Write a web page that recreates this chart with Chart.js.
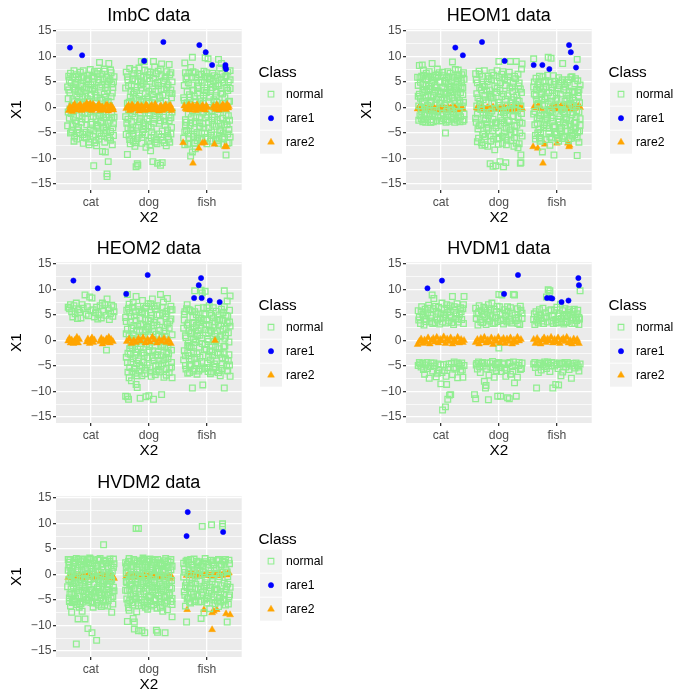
<!DOCTYPE html>
<html><head><meta charset="utf-8">
<script src="https://cdn.jsdelivr.net/npm/chart.js@4.4.1/dist/chart.umd.min.js"></script>
<style>
html,body{margin:0;padding:0;background:#fff;width:700px;height:700px;overflow:hidden}
.p{position:absolute;width:350px;height:233px}
canvas{display:block}
</style></head><body>
<div class="p" style="left:0;top:0"><canvas id="c0" width="350" height="233"></canvas></div>
<div class="p" style="left:350px;top:0"><canvas id="c1" width="350" height="233"></canvas></div>
<div class="p" style="left:0;top:233px"><canvas id="c2" width="350" height="233"></canvas></div>
<div class="p" style="left:350px;top:233px"><canvas id="c3" width="350" height="233"></canvas></div>
<div class="p" style="left:0;top:467px"><canvas id="c4" width="350" height="233"></canvas></div>
<script>
// ---- categories / ticks ----
const categories = ['cat','dog','fish'];
const categoryPositions = [1,2,3];
const yMajorTicks = [-15,-10,-5,0,5,10,15];
const yMinorTicks = [-12.5,-7.5,-2.5,2.5,7.5,12.5];
const classNames = ['normal','rare1','rare2'];
const panelTitles = ['ImbC data','HEOM1 data','HEOM2 data','HVDM1 data','HVDM2 data'];

// ---- ImbC ----
const imbcNormal = [[0.62,6.1],[0.66,4.8],[0.71,7.2],[0.64,2.9],[0.69,1.5],[0.73,3.6],[0.78,5.5],[0.82,6.9],[0.86,4.1],[0.9,2.2],[0.95,6.3],[0.99,7.4],[1.03,5.0],[1.07,3.1],[1.11,6.6],[1.15,8.8],[1.19,4.4],[1.23,2.6],[1.27,5.9],[1.31,8.6],[1.35,6.8],[1.38,3.9],[1.3,1.2],[1.24,7.1],[1.16,1.8],[1.08,0.9],[0.97,1.1],[0.88,0.6],[0.76,2.3],[0.67,0.3],[0.61,-0.9],
[0.63,-2.1],[0.68,-3.4],[0.65,-5.0],[0.72,-5.8],[0.77,-4.4],[0.8,-1.6],[0.84,-2.9],[0.87,-7.0],[0.92,-4.9],[0.96,-6.8],[0.94,-1.2],[1.0,-3.3],[1.04,-5.6],[1.05,-11.4],[1.09,-2.2],[1.12,-4.1],[1.14,-6.2],[1.1,-7.5],[1.18,-3.0],[1.21,-1.4],[1.22,-5.1],[1.2,-8.6],[1.25,-8.7],[1.26,-3.8],[1.28,-13.0],[1.28,-13.5],[1.3,-10.6],[1.29,-6.0],[1.33,-2.5],[1.34,-4.7],[1.36,-1.1],[1.37,-7.3],[1.39,-5.5],[1.39,-3.2],[0.7,-0.5],[0.98,-0.4],[1.17,-0.6],[1.32,0.4],
[0.74,4.5],[0.83,3.0],[0.93,5.4],[1.01,2.6],[1.13,4.9],[1.29,3.3],[1.36,4.6],[0.6,4.0],[0.8,1.0],[1.06,7.0],
[0.63,5.3],[0.66,-1.2],[0.7,4.0],[0.73,-2.6],[0.75,6.4],[0.79,-3.9],[0.81,2.7],[0.84,5.8],[0.86,-5.3],[0.89,3.6],[0.91,-2.3],[0.94,1.7],[0.96,4.6],[0.99,-4.4],[1.02,6.1],[1.04,-1.8],[1.06,3.8],[1.09,-6.4],[1.11,1.9],[1.14,5.4],[1.17,-2.7],[1.19,6.5],[1.22,-4.0],[1.25,3.9],[1.27,-1.9],[1.3,5.1],[1.32,-5.9],[1.35,2.1],[1.38,-4.0],[1.4,6.0],[0.68,-4.4],[0.77,0.8],[0.92,-6.0],[1.0,4.4],[1.15,-5.0],[1.26,0.9],[0.61,1.7],[0.85,-0.9],[1.12,-3.5],[1.34,7.3],
[0.6,-3.6],[0.62,3.4],[0.64,-0.3],[0.65,6.7],[0.67,-4.8],[0.69,5.9],[0.7,-1.9],[0.72,1.1],[0.73,4.9],[0.75,-3.1],[0.76,-6.2],[0.78,3.1],[0.79,6.0],[0.8,-4.9],[0.82,-0.2],[0.83,4.4],[0.85,-2.2],[0.86,2.0],[0.88,6.1],[0.89,-5.8],[0.9,-1.0],[0.92,3.9],[0.93,-3.4],[0.95,0.5],[0.96,5.6],[0.98,-5.2],[0.99,2.3],[1.0,-0.9],[1.02,-2.9],[1.03,3.5],[1.05,-4.6],[1.06,5.7],[1.08,-0.7],[1.09,2.4],[1.1,-3.7],[1.12,7.1],[1.13,0.2],[1.15,-1.6],[1.16,4.0],[1.18,-5.6],[1.19,1.4],[1.21,5.6],[1.22,-2.0],[1.24,-6.8],[1.25,2.0],[1.27,-4.5],[1.28,4.5],[1.3,-3.1],[1.31,0.0],[1.33,5.4],[1.34,-6.4],[1.36,-2.0],[1.37,2.8],[1.39,5.0],[1.4,-1.9],[0.71,-6.6],[0.87,7.2],[1.07,-6.9],[1.23,7.5],[0.97,-7.3],
[1.61,6.9],[1.65,4.2],[1.68,2.0],[1.63,0.8],[1.72,5.6],[1.75,7.3],[1.79,3.3],[1.83,1.4],[1.87,9.0],[1.86,6.1],[1.9,4.6],[1.92,9.0],[1.94,2.7],[1.98,7.0],[2.02,5.1],[2.06,3.6],[2.08,9.0],[2.1,1.6],[2.13,6.6],[2.17,4.3],[2.2,7.5],[2.22,8.5],[2.24,2.4],[2.28,5.7],[2.31,3.9],[2.35,8.4],[2.36,6.4],[2.39,1.9],[2.38,3.4],[1.7,1.2],[1.81,5.0],[2.0,0.9],[2.15,0.7],[2.33,0.5],[1.96,4.0],
[1.6,-1.8],[1.63,-9.2],[1.64,-4.0],[1.67,-6.3],[1.7,-2.7],[1.73,-5.1],[1.76,-7.6],[1.78,-11.6],[1.8,-11.0],[1.81,-11.3],[1.82,-3.5],[1.85,-1.3],[1.88,-5.9],[1.91,-4.3],[1.95,-7.8],[1.97,-2.2],[2.0,-6.6],[2.03,-8.5],[2.04,-3.9],[2.07,-10.6],[2.09,-5.4],[2.11,-1.6],[2.15,-10.9],[2.14,-7.1],[2.18,-3.1],[2.2,-11.3],[2.23,-10.8],[2.21,-5.8],[2.25,-1.9],[2.27,-6.9],[2.3,-7.5],[2.32,-4.4],[2.35,-2.6],[2.38,-5.2],[2.4,-0.9],[1.69,-0.6],[1.93,-0.5],[2.26,-0.3],
[1.62,-3.1],[1.64,5.4],[1.66,-5.6],[1.69,3.1],[1.71,-4.5],[1.74,6.6],[1.76,-1.9],[1.78,1.8],[1.8,-6.1],[1.83,7.7],[1.84,-2.8],[1.87,3.8],[1.89,-4.9],[1.91,5.9],[1.94,-3.6],[1.96,1.2],[1.99,-1.1],[2.01,6.4],[2.04,-5.9],[2.06,2.5],[2.08,-3.1],[2.11,4.7],[2.13,-6.3],[2.16,7.1],[2.18,-1.2],[2.21,3.5],[2.23,-4.6],[2.26,5.2],[2.28,-3.5],[2.31,7.0],[2.33,-5.8],[2.36,2.8],[2.38,-2.0],[2.4,5.0],[1.68,-7.1],[1.86,4.4],[2.02,-7.3],[2.19,1.9],[2.34,-6.2],[1.73,2.6],
[1.6,3.8],[1.61,-5.3],[1.63,6.0],[1.64,-2.3],[1.66,1.0],[1.67,7.6],[1.69,-4.2],[1.7,4.4],[1.72,-1.2],[1.73,-6.6],[1.75,2.9],[1.76,5.2],[1.78,-3.9],[1.79,0.0],[1.81,6.7],[1.82,-5.4],[1.84,2.2],[1.85,-2.1],[1.87,5.2],[1.88,-7.0],[1.9,1.6],[1.91,-3.0],[1.93,7.3],[1.94,-5.3],[1.96,-0.1],[1.97,5.6],[1.99,-3.6],[2.0,3.2],[2.02,-1.6],[2.03,6.9],[2.05,-4.8],[2.06,0.9],[2.08,5.7],[2.09,-2.3],[2.11,-6.8],[2.12,3.1],[2.14,-0.8],[2.15,4.9],[2.17,-5.2],[2.18,2.2],[2.2,-2.6],[2.21,6.2],[2.23,-0.1],[2.24,-6.4],[2.26,3.6],[2.27,-2.7],[2.29,6.0],[2.3,1.2],[2.32,-5.0],[2.33,4.4],[2.35,-1.5],[2.36,-6.8],[2.38,6.8],[2.39,-3.9],[2.4,2.7],[1.65,-0.4],[1.98,1.9],[2.25,0.0],[1.77,-6.9],[2.1,7.9],
[2.62,8.7],[2.64,5.6],[2.66,3.1],[2.61,1.4],[2.69,6.8],[2.72,7.8],[2.75,9.8],[2.74,4.4],[2.78,2.2],[2.81,5.9],[2.84,3.7],[2.86,6.4],[2.89,1.8],[2.92,4.9],[2.95,7.1],[2.97,9.7],[2.99,2.9],[3.02,9.5],[3.04,5.5],[3.07,3.4],[3.1,6.7],[3.12,1.5],[3.15,4.2],[3.18,5.9],[3.2,9.4],[3.22,7.7],[3.25,8.6],[3.27,2.6],[3.3,4.8],[3.33,6.2],[3.36,3.3],[3.37,5.0],[3.4,7.2],[3.39,1.2],[2.7,0.6],[2.94,0.8],[3.14,0.5],
[2.6,-6.0],[2.62,-7.3],[2.63,-2.4],[2.65,-4.5],[2.68,-1.3],[2.71,-3.6],[2.72,-9.5],[2.75,-8.7],[2.77,-5.7],[2.8,-8.1],[2.8,-2.8],[2.83,-4.9],[2.87,-1.9],[2.9,-6.3],[2.93,-3.2],[2.96,-5.1],[3.0,-1.5],[3.03,-4.0],[3.06,-6.6],[3.09,-2.5],[3.12,-5.4],[3.16,-3.7],[3.19,-1.2],[3.21,-6.0],[3.24,-4.6],[3.27,-2.1],[3.3,-5.8],[3.33,-9.3],[3.35,-3.4],[3.38,-6.9],[3.4,-5.8],[3.37,-1.6],[2.85,-0.5],[3.08,-0.6],
[2.61,4.3],[2.63,-3.5],[2.66,6.0],[2.68,-5.2],[2.7,2.5],[2.73,-2.0],[2.76,7.0],[2.78,-4.2],[2.81,1.0],[2.83,-6.5],[2.86,4.9],[2.88,-3.7],[2.91,6.5],[2.93,-1.1],[2.96,3.3],[2.98,-5.9],[3.01,6.0],[3.03,-2.9],[3.05,2.0],[3.08,-4.8],[3.11,5.2],[3.13,-1.9],[3.16,3.0],[3.18,-6.5],[3.21,4.3],[3.23,-3.1],[3.26,6.6],[3.28,-5.0],[3.31,1.9],[3.34,-2.7],[3.36,6.9],[3.38,-4.3],[3.4,3.7],[2.69,-7.0],[2.84,2.8],[3.0,-7.1],[3.17,1.0],[3.29,-7.2],[2.64,0.5],[3.06,4.6],
[2.6,1.9],[2.62,-4.8],[2.63,6.8],[2.65,-2.9],[2.66,0.9],[2.68,4.8],[2.69,-6.1],[2.71,2.0],[2.72,-3.0],[2.74,5.9],[2.75,-0.6],[2.77,3.4],[2.78,-5.2],[2.8,6.8],[2.81,-2.0],[2.82,0.4],[2.84,-6.0],[2.85,4.2],[2.87,-3.0],[2.88,1.1],[2.9,5.3],[2.91,-5.0],[2.92,-0.1],[2.94,2.4],[2.95,-4.0],[2.97,6.0],[2.98,-2.0],[3.0,3.8],[3.01,-6.2],[3.03,1.1],[3.04,-0.8],[3.06,5.7],[3.07,-5.5],[3.09,3.9],[3.1,-3.3],[3.12,0.0],[3.13,6.2],[3.15,-6.2],[3.16,2.3],[3.18,-2.6],[3.19,4.6],[3.21,-0.4],[3.22,-4.4],[3.24,2.8],[3.25,5.4],[3.27,-6.2],[3.28,0.8],[3.3,-3.4],[3.31,6.0],[3.33,-1.4],[3.34,3.9],[3.36,-5.2],[3.37,1.1],[3.39,-2.5],[3.4,5.4],[2.67,-7.2],[2.99,6.8],[3.2,-7.0],[2.79,-7.0],[3.35,-7.0]];
const imbcRare1 = [[0.64,11.7],[0.85,10.2],[1.92,9.1],[2.25,12.8],[2.87,12.2],[2.98,10.8],[3.09,8.3],[3.32,8.3],[3.33,7.5],[3.32,7.9]];
const imbcRare2 = [[0.62,-0.6],[0.66,-0.2],[0.7,0.3],[0.74,-0.5],[0.78,0.1],[0.82,0.5],[0.86,-0.3],[0.9,0.2],[0.93,0.8],[0.97,0.4],[1.0,-0.4],[1.04,0.6],[1.08,-0.1],[1.12,0.3],[1.16,-0.6],[1.2,0.1],[1.24,-0.3],[1.28,0.5],[1.32,-0.2],[1.36,0.2],[1.39,-0.5],
[0.64,0.2],[0.68,-0.8],[0.72,0.6],[0.76,-0.2],[0.8,0.4],[0.84,-0.6],[0.88,0.3],[0.92,-0.4],[0.95,0.0],[0.99,0.7],[1.02,-0.6],[1.06,0.2],[1.1,-0.3],[1.14,0.6],[1.18,0.0],[1.22,-0.5],[1.26,0.4],[1.3,-0.7],[1.34,0.3],[1.38,-0.1],
[1.61,-0.2],[1.65,0.4],[1.69,-0.5],[1.73,0.2],[1.77,-0.1],[1.81,0.5],[1.85,-0.4],[1.89,0.1],[1.93,-0.6],[1.97,0.3],[2.01,-0.2],[2.05,0.4],[2.09,-0.5],[2.13,0.0],[2.17,-0.7],[2.21,0.3],[2.25,-0.4],[2.29,0.5],[2.33,-0.1],[2.37,0.4],[2.4,-0.3],
[1.63,0.1],[1.67,-0.6],[1.71,0.5],[1.75,-0.3],[1.79,0.2],[1.83,-0.7],[1.87,0.3],[1.91,-0.2],[1.95,0.5],[1.99,-0.5],[2.03,0.2],[2.07,-0.1],[2.11,0.6],[2.15,-0.4],[2.19,0.1],[2.23,-0.6],[2.27,0.2],[2.31,-0.3],[2.35,0.3],[2.39,-0.6],
[2.61,0.3],[2.65,-0.4],[2.69,0.5],[2.73,-0.1],[2.77,0.2],[2.81,-0.6],[2.85,0.1],[2.89,-0.3],[2.93,0.4],[2.97,-0.5],[3.01,0.0],[3.11,0.2],[3.15,-0.4],[3.19,0.3],[3.23,-0.2],[3.27,0.5],[3.31,-0.1],[3.35,0.6],[3.38,0.2],
[2.63,-0.2],[2.67,0.2],[2.71,-0.5],[2.75,0.4],[2.79,-0.2],[2.83,0.5],[2.87,-0.4],[2.91,0.2],[2.95,-0.1],[2.99,0.3],[3.13,-0.1],[3.17,0.5],[3.21,-0.5],[3.25,0.1],[3.29,0.4],[3.33,-0.4],[3.37,-0.1],
[2.59,-6.9],[2.76,-10.9],[2.86,-8.0],[2.92,-7.0],[2.96,-6.9],[3.13,-7.2],[3.31,-7.7],[3.34,-7.7]];

// ---- HEOM1 ----
const heom1Normal = [[0.61,4.3],[0.63,8.2],[0.65,1.8],[0.67,6.1],[0.68,8.3],[0.7,-2.4],[0.72,3.5],[0.74,5.4],[0.76,-1.1],[0.78,2.4],[0.8,7.0],[0.82,0.9],[0.84,4.7],[0.85,8.6],[0.87,-2.8],[0.89,3.0],[0.91,6.3],[0.93,1.6],[0.95,-1.9],[0.97,5.0],[0.99,2.7],[1.01,-2.6],[1.03,6.9],[1.05,3.9],[1.07,0.7],[1.08,-5.0],[1.1,5.8],[1.12,-1.5],[1.14,2.2],[1.16,6.7],[1.18,4.2],[1.2,8.9],[1.22,-2.3],[1.24,1.3],[1.25,7.4],[1.27,3.4],[1.29,5.6],[1.3,7.3],[1.32,-0.9],[1.34,2.9],[1.36,4.8],[1.38,-2.7],[1.4,5.5],[1.39,1.0],[0.64,-1.6],[0.73,-0.4],[0.86,-1.3],[0.98,0.8],[1.09,-2.9],[1.19,-0.5],[1.33,0.9],[0.69,2.9],[0.79,4.1],[0.92,5.9],[1.06,1.9],[1.15,3.5],[1.28,6.4],[1.35,3.7],[0.62,0.3],[0.75,6.7],
[0.61,2.2],[0.64,5.8],[0.66,-2.2],[0.69,4.5],[0.71,1.2],[0.74,-2.9],[0.76,3.3],[0.79,6.1],[0.81,-1.8],[0.83,2.1],[0.86,5.3],[0.88,-0.6],[0.9,4.4],[0.93,-2.6],[0.95,3.2],[0.97,6.8],[1.0,1.4],[1.02,4.0],[1.04,-1.2],[1.07,5.3],[1.09,2.6],[1.11,-2.4],[1.13,4.6],[1.16,0.6],[1.18,-1.9],[1.21,3.0],[1.23,5.9],[1.26,-2.1],[1.28,1.9],[1.31,4.2],[1.33,-2.8],[1.36,6.4],[1.38,2.5],[1.4,-1.3],[0.67,-0.8],[0.84,-2.4],[1.0,-1.6],[1.17,2.9],[1.3,-1.6],[0.77,0.4],
[0.6,5.9],[0.62,-2.5],[0.63,2.6],[0.65,4.9],[0.66,-0.2],[0.68,1.1],[0.69,-2.8],[0.71,6.3],[0.72,-1.4],[0.74,2.0],[0.75,4.3],[0.77,-2.4],[0.78,5.6],[0.8,-0.6],[0.81,3.7],[0.83,-2.9],[0.84,1.2],[0.86,6.0],[0.87,2.4],[0.89,-1.6],[0.9,0.5],[0.92,3.9],[0.93,-0.9],[0.95,6.3],[0.96,2.0],[0.98,-2.6],[0.99,4.9],[1.01,3.0],[1.02,0.0],[1.04,6.2],[1.05,-2.2],[1.07,2.9],[1.08,4.7],[1.1,-0.8],[1.11,1.5],[1.13,6.0],[1.14,-2.7],[1.16,3.9],[1.17,-0.9],[1.19,5.2],[1.2,1.9],[1.22,-1.2],[1.23,3.8],[1.25,0.3],[1.26,5.0],[1.28,-2.5],[1.29,2.6],[1.31,6.2],[1.32,1.3],[1.34,-1.8],[1.35,5.3],[1.37,0.3],[1.38,3.9],[1.4,-2.4],[1.39,6.8],[0.7,7.3],[0.94,7.5],[1.12,7.0],[0.82,-2.9],[1.24,-2.9],
[1.6,6.6],[1.62,2.7],[1.64,-4.2],[1.66,7.1],[1.68,0.6],[1.7,-6.9],[1.72,4.5],[1.74,-2.1],[1.75,7.2],[1.77,-5.7],[1.79,3.2],[1.81,-7.6],[1.83,5.6],[1.85,-11.0],[1.85,-1.0],[1.87,1.9],[1.89,-4.6],[1.9,-11.5],[1.91,6.3],[1.93,-8.3],[1.94,-3.1],[1.95,-11.4],[1.96,2.9],[1.98,-6.2],[2.0,9.0],[2.01,0.4],[2.02,-10.6],[2.03,4.8],[2.05,-2.6],[2.07,7.0],[2.08,-11.6],[2.09,-5.0],[2.11,1.6],[2.12,-10.8],[2.13,-7.3],[2.15,5.3],[2.17,-3.7],[2.19,3.8],[2.2,9.0],[2.21,-6.5],[2.23,0.9],[2.25,-1.7],[2.27,6.1],[2.28,-4.9],[2.3,9.0],[2.31,2.4],[2.33,-7.9],[2.34,4.2],[2.36,-2.9],[2.37,-10.9],[2.38,-10.8],[2.38,-9.3],[2.39,7.5],[2.4,8.5],[2.4,-5.6],[1.63,-1.3],[1.73,1.5],[1.88,-0.7],[2.04,-0.9],[2.18,-0.4],[2.32,-0.6],[1.67,3.9],[1.8,-3.3],[1.97,5.1],[2.1,-1.4],[2.24,3.1],[2.35,1.2],[1.71,-7.4],[2.06,-7.0],[2.26,-7.6],
[1.61,-2.9],[1.63,4.8],[1.65,-6.0],[1.67,1.2],[1.69,-3.4],[1.72,6.1],[1.74,-5.2],[1.76,2.4],[1.78,-1.5],[1.8,5.0],[1.82,-4.1],[1.84,3.4],[1.86,-6.6],[1.88,6.8],[1.9,-2.3],[1.92,0.8],[1.95,-4.0],[1.97,3.7],[1.99,-7.2],[2.01,5.8],[2.03,-3.3],[2.05,2.1],[2.08,-1.0],[2.1,5.6],[2.12,-5.8],[2.14,0.3],[2.16,-2.5],[2.18,6.9],[2.2,-4.4],[2.22,1.5],[2.25,4.7],[2.27,-5.9],[2.29,0.6],[2.31,-3.5],[2.33,6.5],[2.35,-7.1],[2.37,3.6],[2.39,-1.2],[1.7,-0.3],[2.0,-6.0],
[1.6,-2.1],[1.61,5.4],[1.63,-6.7],[1.64,1.9],[1.66,-3.6],[1.67,6.5],[1.69,-0.4],[1.7,3.4],[1.72,-5.3],[1.73,-1.0],[1.75,4.1],[1.76,-7.3],[1.78,0.9],[1.79,-3.9],[1.81,6.1],[1.82,-1.6],[1.84,2.6],[1.85,-5.6],[1.87,5.4],[1.88,-3.0],[1.9,1.9],[1.91,-6.2],[1.93,4.2],[1.94,-0.2],[1.96,-2.9],[1.97,7.2],[1.99,1.0],[2.0,-4.7],[2.02,3.3],[2.03,-1.9],[2.05,6.5],[2.06,-5.6],[2.08,2.6],[2.09,-3.0],[2.11,4.3],[2.12,-0.6],[2.14,-6.4],[2.15,2.3],[2.17,6.0],[2.18,-2.8],[2.2,0.4],[2.21,-5.2],[2.23,4.0],[2.24,-1.8],[2.26,2.0],[2.27,-3.6],[2.29,5.6],[2.3,-7.0],[2.32,1.4],[2.33,-2.0],[2.35,4.8],[2.36,-5.0],[2.38,0.3],[2.39,2.9],[2.4,-3.1],[1.62,0.3],[1.86,2.2],[2.13,-4.1],[1.77,-2.4],[2.28,-0.4],
[2.6,9.5],[2.61,2.6],[2.63,-5.5],[2.64,5.7],[2.66,-2.1],[2.68,0.8],[2.69,-4.3],[2.71,3.9],[2.73,-6.2],[2.75,-8.7],[2.76,5.0],[2.78,-1.4],[2.8,2.1],[2.82,-3.6],[2.84,6.3],[2.85,9.8],[2.86,-5.1],[2.88,-7.4],[2.9,9.6],[2.91,1.2],[2.93,-2.7],[2.95,-9.3],[2.95,4.5],[2.97,-4.8],[2.99,2.8],[3.01,-6.0],[3.03,5.8],[3.05,-1.8],[3.07,0.5],[3.08,-3.9],[3.1,8.6],[3.12,3.4],[3.14,-5.6],[3.16,-2.3],[3.18,4.9],[3.2,-6.5],[3.22,1.7],[3.24,-4.4],[3.26,6.0],[3.28,-1.0],[3.3,3.1],[3.31,-5.3],[3.33,-2.9],[3.35,9.4],[3.35,-9.4],[3.36,5.2],[3.38,-6.8],[3.39,0.9],[3.4,-3.5],[2.62,-0.8],[2.74,1.6],[2.87,-0.6],[3.0,-0.3],[3.13,-0.9],[3.27,0.4],[2.67,4.4],[2.79,-3.0],[2.92,3.3],[3.06,-4.6],[3.19,2.4],[3.32,-4.0],[3.37,2.2],[2.7,-5.9],[3.23,-6.1],
[2.6,4.0],[2.62,-3.4],[2.65,1.5],[2.67,-5.0],[2.7,6.1],[2.72,-1.6],[2.74,3.0],[2.77,-4.0],[2.79,0.3],[2.81,5.2],[2.83,-2.2],[2.86,2.9],[2.88,-5.8],[2.9,3.9],[2.92,-1.0],[2.94,6.2],[2.96,-3.6],[2.98,1.3],[3.0,-5.3],[3.02,3.6],[3.04,-2.8],[3.07,5.0],[3.09,-6.1],[3.11,-0.8],[3.13,4.6],[3.15,-3.5],[3.17,1.7],[3.2,5.4],[3.22,-2.6],[3.25,-5.0],[3.27,2.9],[3.29,-3.8],[3.31,4.6],[3.34,-0.6],[3.36,-4.8],[3.38,3.5],[3.4,-2.2],[2.71,-6.6],[3.03,-6.6],[3.24,0.8],
[2.6,-1.3],[2.61,5.0],[2.63,-6.2],[2.64,2.3],[2.66,-3.1],[2.67,0.6],[2.69,5.0],[2.7,-2.2],[2.72,-4.9],[2.73,2.5],[2.75,-0.5],[2.76,6.0],[2.78,-3.4],[2.79,1.7],[2.81,-6.3],[2.82,4.0],[2.84,-1.5],[2.85,0.7],[2.87,-4.1],[2.88,4.9],[2.9,-2.0],[2.91,-6.0],[2.93,2.2],[2.94,-3.9],[2.96,5.1],[2.97,0.5],[2.99,-5.2],[3.0,1.8],[3.02,-2.3],[3.03,4.3],[3.05,-4.2],[3.06,2.6],[3.08,-0.4],[3.09,5.4],[3.11,-3.0],[3.12,-5.8],[3.14,1.2],[3.15,4.0],[3.17,-2.0],[3.18,-4.7],[3.2,0.4],[3.21,3.2],[3.23,-3.4],[3.24,5.9],[3.26,-1.4],[3.27,-5.6],[3.29,1.4],[3.3,-3.1],[3.32,5.6],[3.33,-1.9],[3.35,-6.0],[3.36,2.9],[3.38,-0.9],[3.39,-4.6],[3.4,4.4],[2.65,3.5],[2.89,-0.9],[3.13,-1.3],[3.34,0.9],[2.77,3.6]];
const heom1Rare1 = [[1.25,11.7],[1.38,10.2],[1.71,12.8],[2.1,9.1],[2.6,8.3],[2.75,8.3],[2.87,7.5],[3.21,12.2],[3.24,10.8],[3.33,7.8]];
const heom1Rare2 = [[0.6,-0.3],[0.63,0.1],[0.66,-0.5],[0.69,-0.2],[0.72,0.0],[0.75,-0.4],[0.78,-0.1],[0.81,-0.6],[0.84,-0.3],[0.87,0.1],[0.9,-0.4],[0.93,-0.2],[0.96,-0.5],[0.99,-0.1],[1.02,-0.3],[1.05,0.0],[1.08,-0.4],[1.11,-0.2],[1.14,-0.5],[1.17,-0.1],[1.2,-0.3],[1.23,0.1],[1.26,-0.4],[1.29,-0.2],[1.32,-0.5],[1.35,-0.1],[1.38,-0.3],
[0.62,-0.1],[0.65,-0.3],[0.68,0.0],[0.71,-0.4],[0.74,-0.2],[0.77,-0.5],[0.8,-0.2],[0.83,0.0],[0.86,-0.4],[0.89,-0.1],[0.92,-0.5],[0.95,-0.2],[0.98,-0.3],[1.01,0.0],[1.04,-0.5],[1.07,-0.2],[1.1,-0.3],[1.13,0.0],[1.16,-0.4],[1.19,-0.2],[1.22,-0.5],[1.25,-0.1],[1.28,-0.3],[1.31,0.0],[1.34,-0.4],[1.37,-0.2],
[1.62,-0.1],[1.66,-0.3],[1.7,0.0],[1.74,-0.2],[1.78,-0.4],[1.82,-0.1],[1.86,-0.3],[1.9,0.1],[1.94,-0.2],[1.98,-0.4],[2.02,-0.1],[2.06,-0.3],[2.1,0.0],[2.14,-0.2],[2.18,-0.5],[2.22,-0.1],[2.26,-0.3],[2.3,0.1],[2.34,-0.2],[2.38,-0.4],
[1.64,-0.2],[1.68,-0.4],[1.72,-0.1],[1.76,-0.3],[1.8,0.0],[1.84,-0.4],[1.88,-0.2],[1.92,-0.3],[1.96,0.0],[2.0,-0.2],[2.04,-0.4],[2.08,-0.1],[2.12,-0.3],[2.16,0.0],[2.2,-0.2],[2.24,-0.4],[2.28,-0.1],[2.32,-0.3],[2.36,0.0],[2.4,-0.2],
[2.61,0.2],[2.65,-0.1],[2.69,0.3],[2.73,-0.2],[2.9,0.1],[2.95,-0.3],[3.0,0.2],[3.04,-0.1],[3.08,0.3],[3.12,-0.2],[3.16,0.1],[3.22,-0.3],[3.28,0.2],[3.33,-0.1],[3.38,0.3],
[2.63,0.0],[2.67,0.2],[2.71,-0.1],[2.92,-0.2],[2.97,0.3],[3.02,-0.2],[3.06,0.1],[3.1,-0.1],[3.14,0.3],[3.19,-0.1],[3.25,0.0],[3.3,-0.2],[3.36,0.1],[3.4,0.0],
[2.59,-7.7],[2.67,-8.0],[2.79,-7.2],[2.76,-10.9],[3.0,-7.0],[3.19,-7.0],[3.21,-7.7],[3.22,-7.4]];

// ---- HEOM2 ----
const heom2Normal = [[0.61,6.5],[0.63,6.2],[0.65,7.0],[0.67,5.6],[0.69,4.6],[0.71,6.8],[0.73,5.2],[0.75,7.3],[0.77,4.3],[0.79,6.0],[0.81,5.5],[0.83,4.4],[0.85,7.0],[0.87,6.3],[0.9,8.9],[0.92,5.1],[0.94,6.6],[0.96,4.8],[0.98,8.5],[1.0,5.8],[1.02,8.3],[1.04,6.0],[1.06,4.6],[1.08,5.4],[1.1,6.5],[1.12,4.2],[1.14,5.0],[1.16,6.8],[1.18,4.4],[1.2,7.3],[1.22,5.7],[1.24,7.0],[1.26,4.9],[1.27,-1.9],[1.28,8.1],[1.3,6.2],[1.32,4.1],[1.34,5.3],[1.36,6.9],[1.38,4.7],[1.4,5.6],[1.39,6.6],
[1.6,-10.9],[1.61,1.3],[1.62,5.9],[1.63,-11.0],[1.63,9.0],[1.64,-2.5],[1.65,-11.5],[1.66,7.1],[1.67,-5.3],[1.68,3.6],[1.7,-7.9],[1.71,0.4],[1.72,6.5],[1.73,-3.6],[1.75,4.8],[1.77,-6.4],[1.78,8.6],[1.78,-8.6],[1.79,2.0],[1.8,-9.2],[1.81,-1.7],[1.83,6.0],[1.84,-4.9],[1.85,-11.3],[1.86,3.2],[1.88,-6.9],[1.89,7.8],[1.9,0.9],[1.92,-2.9],[1.93,5.3],[1.95,-11.0],[1.95,-5.8],[1.97,2.6],[1.99,7.2],[2.0,-10.8],[2.01,-1.2],[2.03,4.3],[2.04,-7.0],[2.06,8.1],[2.07,1.7],[2.08,-11.5],[2.09,-4.0],[2.11,6.2],[2.13,-6.1],[2.14,3.0],[2.16,-2.2],[2.18,5.0],[2.2,9.0],[2.21,-5.0],[2.22,-10.6],[2.23,0.6],[2.25,7.5],[2.26,-7.2],[2.28,2.5],[2.29,-3.3],[2.31,5.7],[2.32,8.2],[2.33,-1.5],[2.35,-6.3],[2.36,3.8],[2.38,6.7],[2.39,-4.3],[2.4,1.1],[2.4,-7.3],[1.69,-1.0],[1.87,-0.6],[2.05,-0.3],[2.24,-0.9],[1.74,2.9],[1.94,4.0],[2.12,-2.9],[2.3,4.6],
[1.61,3.7],[1.63,-4.3],[1.65,6.3],[1.67,-1.6],[1.69,4.7],[1.71,-6.1],[1.73,1.1],[1.76,-2.9],[1.77,5.6],[1.79,-4.5],[1.81,2.8],[1.83,-6.0],[1.85,4.3],[1.87,-2.5],[1.89,5.4],[1.91,-4.3],[1.94,1.7],[1.96,6.7],[1.98,-3.4],[2.0,2.3],[2.02,-5.4],[2.04,5.5],[2.07,-2.0],[2.09,3.5],[2.11,-6.7],[2.13,1.2],[2.15,6.8],[2.17,-4.6],[2.19,2.0],[2.21,-1.2],[2.24,5.3],[2.26,-3.8],[2.28,0.8],[2.3,-5.5],[2.32,3.2],[2.34,-2.6],[2.37,6.0],[2.39,-5.2],[1.66,-7.3],[2.03,7.2],
[1.6,4.5],[1.61,-3.3],[1.63,2.2],[1.64,-6.2],[1.66,0.9],[1.67,5.5],[1.69,-4.3],[1.7,2.4],[1.72,-1.4],[1.73,7.4],[1.75,-5.5],[1.76,0.1],[1.78,3.9],[1.79,-2.3],[1.81,6.7],[1.82,-4.0],[1.84,1.7],[1.85,-1.2],[1.87,5.6],[1.88,-5.2],[1.9,3.1],[1.91,-2.4],[1.93,-6.5],[1.94,6.3],[1.96,-0.7],[1.97,-4.8],[1.99,3.9],[2.0,-2.0],[2.02,1.0],[2.03,-6.2],[2.05,4.9],[2.06,-3.4],[2.08,2.9],[2.09,6.7],[2.11,-1.1],[2.12,-4.9],[2.14,5.0],[2.15,-2.8],[2.17,0.9],[2.18,-6.2],[2.2,3.7],[2.21,-3.0],[2.23,6.5],[2.24,-4.6],[2.26,1.8],[2.27,-1.3],[2.29,5.2],[2.3,-6.8],[2.32,0.1],[2.33,-3.6],[2.35,2.4],[2.36,-5.4],[2.38,4.2],[2.39,-1.9],[2.4,6.0],[1.68,-2.7],[1.95,2.1],[2.16,-5.8],[2.31,-2.3],[1.8,-6.9],
[2.6,2.4],[2.61,-2.0],[2.62,5.6],[2.63,-4.9],[2.64,0.5],[2.66,7.0],[2.67,-6.4],[2.68,3.4],[2.7,-1.2],[2.71,5.9],[2.73,-3.7],[2.74,1.6],[2.75,-9.3],[2.76,4.6],[2.78,-5.6],[2.79,9.7],[2.8,-0.4],[2.82,2.9],[2.83,-2.6],[2.85,6.3],[2.86,-6.0],[2.88,1.0],[2.9,9.8],[2.91,-4.1],[2.92,9.3],[2.93,-8.7],[2.94,3.9],[2.96,-1.8],[2.97,9.6],[2.98,5.1],[3.0,-5.3],[3.01,0.2],[3.03,-3.1],[3.04,6.8],[3.06,2.0],[3.08,-6.2],[3.09,-0.9],[3.11,4.4],[3.13,-4.6],[3.14,1.3],[3.16,5.7],[3.18,-2.4],[3.2,3.0],[3.21,-5.9],[3.23,0.7],[3.25,6.1],[3.26,-3.4],[3.28,2.2],[3.3,9.7],[3.3,-9.3],[3.31,-1.1],[3.33,4.9],[3.34,-5.0],[3.35,7.7],[3.36,-6.0],[3.37,1.5],[3.38,-2.8],[3.4,8.7],[3.4,-7.0],[3.39,3.6],[2.69,-3.0],[2.87,3.6],[3.05,-2.2],[3.22,4.1],[2.77,0.3],[3.12,-0.2],
[2.61,4.0],[2.63,-3.0],[2.65,6.2],[2.67,-1.0],[2.69,1.9],[2.72,-5.0],[2.75,3.3],[2.77,-2.2],[2.79,5.6],[2.81,-4.4],[2.84,0.9],[2.86,4.4],[2.88,-3.3],[2.9,2.4],[2.92,-5.6],[2.95,5.3],[2.97,-0.8],[2.99,3.1],[3.01,-4.5],[3.03,1.5],[3.06,-6.5],[3.08,4.9],[3.1,-2.9],[3.12,2.6],[3.15,-5.3],[3.17,0.3],[3.19,4.0],[3.21,-1.6],[3.24,2.8],[3.26,-5.5],[3.28,5.4],[3.3,-2.6],[3.32,1.0],[3.35,3.4],[3.37,-4.0],[3.39,5.9],[2.7,-6.3],[3.0,6.4],[3.23,-6.9],[2.83,-6.6],
[2.6,-3.8],[2.61,5.1],[2.63,0.9],[2.64,-5.6],[2.66,3.0],[2.67,-2.4],[2.69,6.0],[2.7,-4.7],[2.72,1.3],[2.73,-1.4],[2.75,5.6],[2.76,-6.0],[2.78,2.5],[2.79,-3.6],[2.81,0.1],[2.82,5.0],[2.84,-4.6],[2.85,1.9],[2.87,-1.3],[2.88,-5.6],[2.9,4.3],[2.91,0.4],[2.93,-3.0],[2.94,6.4],[2.96,-5.5],[2.97,2.1],[2.99,-1.7],[3.0,4.0],[3.02,-6.1],[3.03,-0.2],[3.05,5.3],[3.06,-3.8],[3.08,1.8],[3.09,-2.2],[3.11,6.4],[3.12,-5.2],[3.14,3.6],[3.15,-1.3],[3.17,-4.0],[3.18,1.9],[3.2,-6.3],[3.21,5.0],[3.23,-2.7],[3.24,0.9],[3.26,-4.7],[3.27,3.9],[3.29,-1.2],[3.3,6.6],[3.32,-3.6],[3.33,2.4],[3.35,-5.9],[3.36,4.7],[3.38,-0.3],[3.39,-4.8],[3.4,2.8],[2.68,-0.5],[2.92,-0.6],[3.16,0.0],[3.31,0.4],[3.04,2.9]];
const heom2Rare1 = [[0.7,11.7],[1.12,10.2],[1.61,9.1],[1.98,12.8],[2.78,8.3],[2.86,10.8],[2.9,12.2],[2.91,8.3],[3.05,7.8],[3.22,7.5]];
const heom2Rare2 = [[0.61,-0.1],[0.63,0.4],[0.65,-0.5],[0.67,0.1],[0.7,-0.6],[0.72,0.0],[0.74,-0.3],[0.76,0.6],[0.78,-0.5],[0.8,0.2],[0.93,-0.3],[0.95,0.3],[0.98,-0.6],[1.0,0.0],[1.02,0.5],[1.04,-0.4],[1.06,0.1],[1.16,-0.2],[1.18,0.4],[1.2,-0.7],[1.22,0.0],[1.24,-0.4],[1.27,0.3],[1.29,-0.1],[1.31,0.6],[1.33,-0.5],[1.35,0.2],[1.38,-0.2],
[1.62,-0.2],[1.66,0.3],[1.7,-0.6],[1.74,0.0],[1.78,-0.4],[1.82,0.4],[1.86,-0.1],[1.9,0.5],[1.94,-0.5],[1.98,0.2],[2.02,-0.3],[2.06,0.6],[2.1,0.1],[2.14,-0.5],[2.18,0.2],[2.22,-0.2],[2.26,0.4],[2.3,-0.4],[2.34,0.1],[2.38,-0.6],[3.14,0.0]];

// ---- HVDM1 ----
const hvdm1Normal = [[0.61,5.8],[0.63,4.6],[0.65,3.3],[0.67,6.6],[0.69,5.1],[0.71,3.0],[0.73,6.1],[0.75,4.2],[0.77,5.4],[0.79,6.9],[0.81,3.6],[0.83,4.9],[0.85,8.9],[0.87,6.2],[0.88,8.2],[0.9,3.5],[0.92,5.7],[0.94,4.0],[0.96,6.5],[0.98,3.2],[1.0,5.2],[1.02,7.3],[1.04,4.4],[1.06,6.0],[1.08,3.4],[1.1,7.0],[1.12,5.5],[1.14,3.8],[1.16,6.8],[1.18,4.5],[1.2,8.6],[1.22,3.1],[1.24,5.9],[1.26,4.3],[1.28,7.2],[1.3,3.6],[1.32,5.0],[1.34,6.4],[1.36,4.1],[1.38,6.2],[1.4,8.6],[1.39,3.3],
[0.62,4.0],[0.66,5.6],[0.7,4.8],[0.74,3.7],[0.78,6.3],[0.82,4.4],[0.86,3.3],[0.91,6.7],[0.95,5.3],[0.99,4.4],[1.03,3.6],[1.07,5.0],[1.11,6.3],[1.15,4.9],[1.19,3.5],[1.23,6.6],[1.27,5.2],[1.31,4.2],[1.35,5.6],[1.39,7.0],
[0.61,-4.9],[0.63,-4.3],[0.66,-5.2],[0.69,-4.5],[0.72,-6.6],[0.74,-4.8],[0.77,-5.5],[0.8,-7.4],[0.83,-4.4],[0.86,-6.0],[0.89,-5.0],[0.92,-7.1],[0.95,-4.6],[0.97,-5.8],[1.0,-8.5],[1.02,-6.3],[1.03,-13.6],[1.05,-4.7],[1.08,-13.0],[1.09,-7.0],[1.1,-8.6],[1.12,-11.5],[1.13,-5.3],[1.15,-10.7],[1.17,-10.6],[1.18,-4.5],[1.2,-6.7],[1.23,-4.2],[1.26,-5.6],[1.29,-7.3],[1.31,-4.6],[1.34,-6.1],[1.36,-4.4],[1.38,-7.2],[1.4,-4.9],
[0.64,-4.6],[0.7,-5.7],[0.76,-4.3],[0.82,-5.1],[0.88,-4.4],[0.94,-6.4],[1.0,-4.8],[1.06,-5.9],[1.14,-4.6],[1.22,-5.3],[1.28,-4.4],[1.33,-5.0],[1.37,-5.8],
[1.6,6.3],[1.62,5.2],[1.64,3.0],[1.66,6.8],[1.68,4.1],[1.7,5.8],[1.72,3.5],[1.74,6.5],[1.76,4.6],[1.78,3.1],[1.8,5.5],[1.82,7.0],[1.84,3.8],[1.86,4.9],[1.88,7.3],[1.9,3.3],[1.92,6.1],[1.94,4.4],[1.96,5.6],[1.98,3.7],[2.0,9.0],[2.01,6.6],[2.03,4.0],[2.05,8.9],[2.06,5.3],[2.08,3.2],[2.1,6.0],[2.12,4.7],[2.14,3.6],[2.16,5.7],[2.18,4.2],[2.2,6.4],[2.22,3.4],[2.25,9.0],[2.27,8.9],[2.28,5.0],[2.3,3.9],[2.32,6.2],[2.34,4.5],[2.36,3.1],[2.38,5.9],[2.4,4.3],
[1.61,4.3],[1.65,5.5],[1.69,3.6],[1.73,5.0],[1.77,6.2],[1.81,4.2],[1.85,5.9],[1.89,4.6],[1.93,3.4],[1.97,6.7],[2.02,5.1],[2.07,3.9],[2.11,5.0],[2.15,6.6],[2.19,3.8],[2.23,5.3],[2.29,4.4],[2.33,3.3],[2.37,6.7],[2.4,5.3],
[1.58,-10.6],[1.6,-11.4],[1.61,-4.8],[1.63,-5.6],[1.65,-4.2],[1.68,-6.3],[1.7,-4.5],[1.73,-5.0],[1.75,-8.0],[1.77,-9.3],[1.78,-8.8],[1.8,-4.4],[1.82,-11.6],[1.83,-6.8],[1.86,-5.2],[1.89,-4.1],[1.92,-7.2],[1.94,-4.7],[1.96,-5.9],[1.98,-10.9],[2.0,-4.3],[2.03,-10.9],[2.04,-6.1],[2.07,-4.6],[2.1,-5.4],[2.12,-7.0],[2.15,-11.2],[2.16,-4.5],[2.18,-11.4],[2.2,-6.6],[2.23,-5.1],[2.25,-4.2],[2.27,-8.3],[2.3,-10.9],[2.32,-7.2],[2.34,-4.9],[2.37,-5.7],[2.4,-4.4],[2.0,-1.5],
[1.62,-4.5],[1.67,-5.1],[1.72,-4.3],[1.79,-5.6],[1.85,-4.4],[1.9,-5.4],[1.97,-4.5],[2.02,-5.3],[2.08,-4.4],[2.13,-5.8],[2.19,-4.3],[2.24,-6.0],[2.29,-4.8],[2.35,-4.3],[2.39,-5.5],
[2.6,4.1],[2.62,3.1],[2.64,5.6],[2.66,4.6],[2.68,3.4],[2.7,6.0],[2.72,5.0],[2.74,3.8],[2.76,6.3],[2.78,4.4],[2.8,5.4],[2.82,8.5],[2.84,3.6],[2.85,9.9],[2.87,9.2],[2.88,9.7],[2.9,6.0],[2.92,4.7],[2.94,3.3],[2.96,5.9],[2.98,4.1],[3.0,6.5],[3.02,3.5],[3.04,5.2],[3.06,7.1],[3.08,4.3],[3.1,5.8],[3.12,3.2],[3.14,6.2],[3.16,4.8],[3.18,3.7],[3.2,5.5],[3.22,6.0],[3.24,4.0],[3.26,3.3],[3.28,5.7],[3.3,6.1],[3.32,4.5],[3.34,3.9],[3.36,5.9],[3.38,3.1],[3.4,9.7],[3.39,4.2],
[2.61,5.2],[2.65,3.8],[2.69,5.0],[2.73,4.3],[2.77,3.3],[2.81,4.6],[2.86,5.8],[2.91,3.8],[2.95,5.0],[2.99,3.4],[3.03,4.8],[3.07,3.6],[3.11,4.9],[3.15,3.5],[3.19,4.7],[3.23,5.1],[3.27,4.4],[3.31,3.3],[3.35,5.2],[3.38,4.5],
[2.6,-4.6],[2.63,-5.3],[2.65,-9.3],[2.68,-6.3],[2.7,-4.4],[2.73,-5.8],[2.76,-4.8],[2.79,-4.2],[2.82,-5.5],[2.85,-4.5],[2.88,-6.1],[2.91,-4.3],[2.93,-9.3],[2.96,-5.0],[2.98,-8.6],[3.0,-4.7],[3.03,-8.7],[3.05,-4.4],[3.07,-6.9],[3.1,-6.2],[3.12,-4.6],[3.15,-5.2],[3.18,-4.3],[3.21,-5.7],[3.25,-7.4],[3.28,-4.5],[3.31,-5.4],[3.35,-4.8],[3.38,-6.0],[3.4,-4.6],
[2.62,-4.3],[2.67,-4.8],[2.72,-4.5],[2.78,-5.1],[2.84,-4.2],[2.9,-4.9],[2.95,-4.4],[3.02,-5.5],[3.08,-4.5],[3.14,-4.3],[3.2,-4.6],[3.26,-5.0],[3.33,-4.4],[3.37,-5.2]];
const hvdm1Rare1 = [[0.77,10.2],[1.02,11.7],[2.09,9.1],[2.33,12.8],[2.83,8.3],[2.89,8.3],[2.92,8.2],[3.08,7.5],[3.2,7.8],[3.37,12.2],[3.38,10.8]];
const hvdm1Rare2 = [[0.6,-0.8],[0.63,-0.2],[0.66,0.3],[0.69,-0.6],[0.72,0.1],[0.75,-0.4],[0.78,0.5],[0.81,-0.7],[0.84,0.0],[0.87,0.4],[0.9,-0.3],[0.93,0.6],[0.96,-0.5],[0.99,0.2],[1.02,-0.1],[1.05,0.7],[1.08,-0.6],[1.11,0.3],[1.14,-0.2],[1.17,0.5],[1.2,-0.7],[1.23,0.1],[1.26,-0.3],[1.29,0.6],[1.32,-0.5],[1.35,0.2],[1.38,-0.4],[1.4,0.0],
[1.6,-0.4],[1.63,0.2],[1.66,-0.7],[1.69,0.4],[1.72,-0.1],[1.75,0.6],[1.78,-0.5],[1.81,0.1],[1.84,-0.3],[1.87,0.5],[1.9,-0.8],[1.93,0.2],[1.96,-0.2],[1.99,0.6],[2.02,-0.5],[2.05,0.0],[2.08,0.4],[2.11,-0.6],[2.14,0.3],[2.17,-0.2],[2.2,0.5],[2.23,-0.7],[2.26,0.1],[2.29,-0.4],[2.32,0.6],[2.35,-0.1],[2.38,0.2],
[2.6,0.2],[2.63,-0.6],[2.66,0.4],[2.69,-0.2],[2.72,-0.7],[2.75,0.1],[2.78,0.5],[2.81,-0.4],[2.84,0.3],[2.87,-0.1],[2.9,0.6],[2.93,-0.5],[2.96,0.2],[2.99,-0.3],[3.02,0.5],[3.05,-0.6],[3.08,0.1],[3.11,0.4],[3.14,-0.2],[3.17,0.6],[3.2,-0.5],[3.23,0.0],[3.26,-0.7],[3.29,0.3],[3.32,-0.3],[3.35,0.2],[3.38,-0.6]];

// ---- HVDM2 ----
const hvdm2Normal = [[0.61,2.9],[0.62,-1.0],[0.63,-4.6],[0.64,1.4],[0.65,-6.2],[0.66,-2.8],[0.67,-7.4],[0.68,0.3],[0.7,2.2],[0.71,-3.7],[0.72,-5.3],[0.74,-1.7],[0.75,-13.6],[0.75,3.1],[0.76,-0.5],[0.78,-8.7],[0.78,-4.2],[0.8,1.9],[0.81,-2.4],[0.83,-5.7],[0.84,0.8],[0.85,-7.2],[0.86,3.0],[0.88,-3.1],[0.9,-8.7],[0.9,-1.2],[0.92,2.4],[0.93,-4.9],[0.95,-10.6],[0.95,0.1],[0.97,-2.0],[0.98,3.2],[1.0,-5.5],[1.01,1.1],[1.02,-11.4],[1.03,-3.4],[1.05,2.7],[1.06,-0.8],[1.08,-4.4],[1.09,1.7],[1.1,-12.9],[1.11,-2.6],[1.13,-6.0],[1.14,0.5],[1.16,3.1],[1.17,-1.5],[1.19,-4.0],[1.2,2.0],[1.22,5.8],[1.22,-5.2],[1.24,-0.3],[1.26,2.6],[1.27,-3.0],[1.29,-6.2],[1.3,1.2],[1.32,-1.9],[1.33,3.0],[1.35,-4.7],[1.36,-7.4],[1.37,0.6],[1.39,-2.5],[1.4,2.1],[1.38,-5.8],[0.69,-1.8],[0.87,1.6],[1.04,-6.4],[1.21,-2.9],[0.73,-0.9],[0.96,-3.9],[1.15,-3.6],[1.31,-0.7],
[0.62,1.9],[0.64,-3.8],[0.66,0.6],[0.68,-5.5],[0.7,-2.3],[0.72,2.7],[0.74,-4.7],[0.77,1.1],[0.79,-3.2],[0.81,-5.8],[0.83,2.5],[0.86,-1.7],[0.88,-4.5],[0.9,1.0],[0.92,-3.4],[0.94,2.9],[0.96,-5.1],[0.99,-1.0],[1.01,-4.2],[1.03,2.2],[1.06,-3.7],[1.08,0.7],[1.1,-5.6],[1.12,2.9],[1.14,-2.2],[1.17,-4.6],[1.19,1.5],[1.21,-1.2],[1.23,2.8],[1.25,-5.4],[1.28,-2.0],[1.3,-3.9],[1.32,2.6],[1.34,-1.3],[1.37,-3.3],[1.39,1.4],[0.63,2.4],[1.0,3.0],[1.18,-6.3],[0.8,-6.4],
[0.6,-2.4],[0.61,0.8],[0.63,-5.3],[0.64,2.9],[0.66,-1.4],[0.67,-3.9],[0.69,1.2],[0.7,-5.0],[0.72,-0.3],[0.73,2.4],[0.75,-2.7],[0.76,-5.9],[0.78,0.5],[0.79,2.9],[0.81,-4.3],[0.82,-1.0],[0.84,1.9],[0.85,-3.2],[0.87,-5.4],[0.88,2.7],[0.9,-2.6],[0.91,0.1],[0.93,-5.0],[0.94,1.3],[0.96,-1.4],[0.97,-4.6],[0.99,2.1],[1.0,-3.0],[1.02,0.6],[1.03,-5.6],[1.05,-1.9],[1.06,2.2],[1.08,-3.5],[1.09,-0.5],[1.11,-5.2],[1.12,1.6],[1.14,-2.9],[1.15,2.8],[1.17,-0.4],[1.18,-4.1],[1.2,-1.8],[1.21,1.0],[1.23,-3.8],[1.24,-6.0],[1.26,0.4],[1.27,2.2],[1.29,-2.4],[1.3,-5.1],[1.32,0.1],[1.33,-3.5],[1.35,1.8],[1.36,-1.1],[1.38,-4.3],[1.39,3.0],[1.4,-3.2],[0.65,-0.1],[0.89,-0.8],[1.13,-1.0],[1.34,-0.2],[1.04,0.3],
[1.6,2.3],[1.61,-1.4],[1.62,-4.8],[1.63,-9.2],[1.64,0.6],[1.65,-6.5],[1.66,3.1],[1.67,-2.9],[1.69,-0.3],[1.7,1.8],[1.71,-5.5],[1.73,-8.6],[1.73,-3.8],[1.75,-10.7],[1.75,-9.3],[1.76,2.7],[1.77,-1.1],[1.78,9.0],[1.79,-7.3],[1.8,0.9],[1.82,9.0],[1.82,-11.0],[1.83,-4.4],[1.84,2.0],[1.86,-2.2],[1.87,-6.1],[1.88,-11.0],[1.89,1.3],[1.9,3.2],[1.91,-3.3],[1.93,-11.4],[1.93,-0.7],[1.95,-5.0],[1.96,2.5],[1.98,-6.8],[1.99,-1.8],[2.01,0.4],[2.02,3.0],[2.03,-4.1],[2.05,-2.5],[2.06,1.5],[2.08,-5.9],[2.09,-0.2],[2.11,2.8],[2.12,-3.6],[2.13,-10.9],[2.14,-6.6],[2.15,-11.3],[2.16,0.9],[2.18,-1.6],[2.19,-4.7],[2.2,2.2],[2.22,-2.8],[2.23,-6.1],[2.25,1.0],[2.26,-0.9],[2.28,-11.4],[2.28,-4.5],[2.29,3.1],[2.31,-2.0],[2.32,-6.9],[2.34,0.2],[2.35,-3.7],[2.37,2.4],[2.38,-5.3],[2.39,-1.2],[2.4,-8.3],[2.4,1.6],[1.68,-2.0],[1.85,-0.3],[2.04,-1.0],[2.21,-0.4],[1.72,0.0],[1.92,2.9],[2.1,-3.0],[2.27,-5.6],
[1.61,1.5],[1.63,-3.2],[1.65,2.6],[1.67,-5.1],[1.69,1.1],[1.71,-2.3],[1.74,2.9],[1.76,-4.3],[1.78,-1.9],[1.8,2.5],[1.82,-5.6],[1.84,0.5],[1.86,-3.8],[1.88,2.8],[1.9,-1.5],[1.92,-5.5],[1.94,1.8],[1.97,-2.7],[1.99,2.6],[2.01,-4.5],[2.03,1.1],[2.05,-6.2],[2.07,2.9],[2.1,-1.6],[2.12,-4.9],[2.14,2.3],[2.16,-2.9],[2.18,0.6],[2.2,-5.4],[2.23,1.7],[2.25,-3.2],[2.27,2.7],[2.29,-1.3],[2.31,-4.1],[2.33,1.4],[2.36,-2.4],[2.38,2.9],[2.4,-4.7],[1.66,-7.0],[2.24,-7.2],
[1.6,-3.1],[1.61,0.2],[1.63,2.0],[1.64,-5.6],[1.66,-1.2],[1.67,2.5],[1.69,-4.1],[1.7,-0.9],[1.72,-6.0],[1.73,1.5],[1.75,-2.7],[1.76,0.0],[1.78,-4.7],[1.79,2.2],[1.81,-1.5],[1.82,-6.1],[1.84,-2.9],[1.85,2.6],[1.87,-0.7],[1.88,-4.9],[1.9,0.5],[1.91,-2.5],[1.93,2.0],[1.94,-6.4],[1.96,-1.2],[1.97,1.1],[1.99,-4.3],[2.0,2.9],[2.02,-2.1],[2.03,-5.3],[2.05,0.8],[2.06,-3.4],[2.08,2.4],[2.09,-1.4],[2.11,-5.1],[2.12,1.0],[2.14,-2.2],[2.15,2.9],[2.17,-4.2],[2.18,-0.8],[2.2,-6.4],[2.21,1.9],[2.23,-2.4],[2.24,0.4],[2.26,-4.4],[2.27,2.3],[2.29,-3.0],[2.3,-0.5],[2.32,-5.2],[2.33,2.6],[2.35,-1.6],[2.36,-4.0],[2.38,0.9],[2.39,-2.7],[2.4,-5.9],[1.62,-1.6],[1.86,-0.1],[2.07,-0.4],[2.28,0.7],[1.98,-6.0],
[2.6,2.2],[2.61,-3.4],[2.62,0.4],[2.63,-6.2],[2.65,-9.3],[2.65,-1.6],[2.66,2.8],[2.68,-4.6],[2.69,0.9],[2.71,-2.4],[2.72,-5.6],[2.74,1.8],[2.75,-0.7],[2.77,-3.9],[2.78,3.0],[2.8,-5.0],[2.81,-1.9],[2.83,1.2],[2.84,-4.2],[2.86,2.5],[2.87,-0.2],[2.89,-3.0],[2.9,-8.6],[2.91,-5.3],[2.92,9.4],[2.93,1.6],[2.95,-7.5],[2.95,-2.3],[2.97,3.1],[2.99,-4.7],[3.0,-0.9],[3.02,2.0],[3.04,-3.3],[3.05,-6.7],[3.07,0.7],[3.08,9.7],[3.09,-1.4],[3.11,2.7],[3.12,-4.4],[3.14,-2.0],[3.16,1.1],[3.18,-5.2],[3.2,-6.3],[3.2,2.9],[3.22,-0.4],[3.24,-3.6],[3.25,1.9],[3.27,9.9],[3.27,9.4],[3.28,-4.9],[3.3,-1.7],[3.31,2.4],[3.33,-3.0],[3.35,-9.3],[3.35,0.5],[3.37,-5.8],[3.38,2.8],[3.4,-2.5],[3.39,-4.0],[2.7,-2.8],[2.96,0.1],[3.13,-3.0],[3.32,-6.0],
[2.61,1.0],[2.63,-2.2],[2.66,-4.8],[2.68,2.4],[2.7,-1.0],[2.73,-3.5],[2.76,1.4],[2.79,-5.3],[2.82,2.6],[2.85,-2.8],[2.88,0.8],[2.91,-4.0],[2.94,2.2],[2.97,-1.6],[3.0,-5.6],[3.03,1.3],[3.06,-2.6],[3.09,2.3],[3.12,-5.0],[3.15,0.2],[3.18,-3.0],[3.21,1.6],[3.24,-5.4],[3.27,2.6],[3.3,-3.9],[3.33,0.9],[3.36,-1.9],[3.39,2.1],
[2.6,-0.5],[2.62,-4.1],[2.64,2.6],[2.66,-2.6],[2.68,0.2],[2.7,-5.4],[2.72,2.9],[2.74,-1.7],[2.76,-4.4],[2.78,0.9],[2.8,-2.7],[2.82,-0.3],[2.84,2.3],[2.86,-5.4],[2.88,-1.3],[2.9,1.7],[2.92,-3.5],[2.94,0.5],[2.96,-5.0],[2.98,2.5],[3.0,-2.0],[3.02,-4.2],[3.04,0.2],[3.06,2.8],[3.08,-3.7],[3.1,-0.8],[3.12,1.9],[3.14,-5.7],[3.16,-2.8],[3.18,2.7],[3.2,-0.9],[3.22,-4.5],[3.24,2.0],[3.26,-2.2],[3.28,0.4],[3.3,-5.2],[3.32,2.9],[3.34,-2.4],[3.36,-0.4],[3.38,-4.4]];
const hvdm2Rare1 = [[2.67,12.2],[2.65,7.5],[3.28,8.3]];
const hvdm2Rare2 = [[0.61,-0.6],[0.65,-0.3],[0.69,-0.7],[0.73,-0.2],[0.77,-0.5],[0.81,-0.1],[0.85,-0.6],[0.89,-0.3],[0.93,-0.5],[0.97,0.0],[1.01,-0.4],[1.05,-0.7],[1.09,-0.2],[1.13,-0.5],[1.17,-0.1],[1.21,-0.6],[1.25,-0.3],[1.29,-0.4],[1.33,-0.1],[1.37,-0.5],[1.4,-0.8],
[0.63,-0.4],[0.67,-0.6],[0.71,-0.3],[0.75,-0.4],[0.79,-0.2],[0.83,-0.5],[0.87,-0.3],[0.91,-0.6],[0.95,-0.2],[0.99,-0.4],[1.03,-0.5],[1.07,-0.3],[1.11,-0.4],[1.15,-0.2],[1.19,-0.5],[1.23,-0.3],[1.27,-0.6],[1.31,-0.2],[1.35,-0.4],[1.39,-0.6],
[1.61,-0.4],[1.65,-0.2],[1.69,-0.6],[1.73,-0.3],[1.77,-0.5],[1.81,-0.2],[1.85,-0.4],[1.89,-0.6],[1.93,-0.3],[1.97,-0.5],[2.01,-0.2],[2.05,-0.4],[2.09,-0.3],[2.13,-0.5],[2.17,-0.2],[2.21,-0.4],[2.25,-0.3],[2.29,-0.5],[2.33,-0.6],[2.37,-0.8],[2.39,-0.4],
[1.63,-0.3],[1.67,-0.5],[1.71,-0.4],[1.75,-0.2],[1.79,-0.4],[1.83,-0.3],[1.87,-0.5],[1.91,-0.2],[1.95,-0.4],[1.99,-0.3],[2.03,-0.5],[2.07,-0.2],[2.11,-0.4],[2.15,-0.3],[2.19,-0.5],[2.23,-0.2],[2.27,-0.4],[2.31,-0.6],[2.35,-0.5],
[2.65,-0.2],[2.69,0.1],[2.73,-0.3],[2.77,0.0],[2.81,-0.4],[2.85,0.1],[2.95,-0.2],[3.0,0.0],[3.05,-0.3],[3.1,0.1],[3.15,-0.1],[3.2,0.0],[3.25,-0.2],[3.3,0.1],[3.35,-0.1],[3.38,0.3],
[2.67,0.0],[2.71,-0.2],[2.75,0.1],[2.79,-0.2],[2.83,0.0],[2.97,-0.1],[3.02,0.1],[3.07,-0.2],[3.12,0.0],[3.17,-0.2],[3.22,0.1],[3.27,-0.1],[3.32,0.0],[3.36,0.2],
[2.66,-6.9],[2.95,-6.9],[3.09,-7.5],[3.12,-7.2],[3.17,-6.9],[3.09,-10.8],[3.33,-7.7],[3.4,-7.9]];

// ---- drawing ----
const FONT = '"Liberation Sans", Arial, Helvetica, sans-serif';
const styles = {
  normal: {pointStyle:'rect', pointRadius:4.0, borderColor:'#90EE90', backgroundColor:'rgba(0,0,0,0)', borderWidth:1.3},
  rare1: {pointStyle:'circle', pointRadius:2.6, borderColor:'#0000FF', backgroundColor:'#0000FF', borderWidth:0.6},
  rare2: {pointStyle:'triangle', pointRadius:4, borderColor:'#FFA500', backgroundColor:'#FFA500', borderWidth:0.4}
};
const toXY = arr => arr.map(p => ({x:p[0], y:p[1]}));
const fmt = v => v < 0 ? '\u2212' + Math.abs(v) : String(v);

function drawMarker(ctx, st, x, y) {
  ctx.fillStyle = st.backgroundColor; ctx.strokeStyle = st.borderColor; ctx.lineWidth = Math.min(st.borderWidth, 1.1);
  ctx.beginPath();
  if (st.pointStyle === 'rect') {
    const s = st.pointRadius * Math.SQRT1_2;
    ctx.rect(x - s, y - s, 2 * s, 2 * s);
    ctx.stroke();
  } else if (st.pointStyle === 'circle') {
    ctx.arc(x, y, st.pointRadius, 0, Math.PI * 2);
    ctx.fill(); ctx.stroke();
  } else {
    const r = st.pointRadius;
    for (let k = 0; k < 3; k++) {
      const ang = k * 2 * Math.PI / 3;
      const px = x + Math.sin(ang) * r, py = y - Math.cos(ang) * r;
      if (k === 0) ctx.moveTo(px, py); else ctx.lineTo(px, py);
    }
    ctx.closePath(); ctx.fill(); ctx.stroke();
  }
}

const decor = {
  id: 'decor',
  afterDraw(chart, args, opts) {
    const ctx = chart.ctx, a = chart.chartArea;
    const cx = (a.left + a.right) / 2, cy = (a.top + a.bottom) / 2;
    ctx.save();
    ctx.fillStyle = '#000';
    ctx.textBaseline = 'alphabetic';
    ctx.textAlign = 'center';
    ctx.font = '18px ' + FONT;
    ctx.fillText(opts.title, cx, 20.6);
    ctx.font = '15.3px ' + FONT;
    ctx.fillText('X2', cx, 221.6);
    ctx.save();
    ctx.translate(20.6, cy);
    ctx.rotate(-Math.PI / 2);
    ctx.fillText('X1', 0, 0);
    ctx.restore();
    // legend
    ctx.textAlign = 'left';
    ctx.font = '15.3px ' + FONT;
    ctx.fillText('Class', 258.5, 76.6);
    classNames.forEach((name, i) => {
      const top = 82.7 + 24 * i;
      ctx.fillStyle = '#F2F2F2';
      ctx.fillRect(260, top, 22, 23);
      drawMarker(ctx, styles[name], 271, top + 11.5);
      ctx.fillStyle = '#000';
      ctx.font = '12.2px ' + FONT;
      ctx.textBaseline = 'middle';
      ctx.fillText(name, 286, top + 12);
    });
    ctx.restore();
  }
};
const panelBg = {
  id: 'panelBg',
  beforeDraw(chart) {
    const ctx = chart.ctx, a = chart.chartArea;
    ctx.save();
    ctx.fillStyle = '#fff';
    ctx.fillRect(0, 0, chart.width, chart.height);
    ctx.fillStyle = '#EBEBEB';
    ctx.fillRect(a.left, a.top, a.right - a.left, a.bottom - a.top);
    ctx.restore();
  }
};

// rare2OnTop: whether the rare2 triangles sit above the normal squares
const panels = [
  {id:'c0', normal: imbcNormal, rare1: imbcRare1, rare2: imbcRare2, rare2OnTop: true},
  {id:'c1', normal: heom1Normal, rare1: heom1Rare1, rare2: heom1Rare2, rare2OnTop: false},
  {id:'c2', normal: heom2Normal, rare1: heom2Rare1, rare2: heom2Rare2, rare2OnTop: true},
  {id:'c3', normal: hvdm1Normal, rare1: hvdm1Rare1, rare2: hvdm1Rare2, rare2OnTop: true},
  {id:'c4', normal: hvdm2Normal, rare1: hvdm2Rare1, rare2: hvdm2Rare2, rare2OnTop: false}
];

panels.forEach((p, idx) => {
  const ds = (name, arr) => Object.assign({label: name, data: toXY(arr), pointHoverRadius: 0}, styles[name]);
  // Chart.js draws the first dataset last (on top)
  const datasets = p.rare2OnTop
    ? [ds('rare1', p.rare1), ds('rare2', p.rare2), ds('normal', p.normal)]
    : [ds('rare1', p.rare1), ds('normal', p.normal), ds('rare2', p.rare2)];
  new Chart(document.getElementById(p.id), {
    type: 'scatter',
    data: {datasets},
    options: {
      responsive: false, animation: false, events: [],
      layout: {padding: {top: 29.3, right: 108.3, left: 0, bottom: 0}},
      plugins: {legend: {display: false}, tooltip: {enabled: false}, title: {display: false},
        decor: {title: panelTitles[idx]}},
      scales: {
        x: {
          type: 'linear', min: 0.4, max: 3.6,
          afterBuildTicks: s => { s.ticks = categoryPositions.map(v => ({value: v})); },
          afterFit: s => { s.height = 43; },
          border: {display: false},
          grid: {color: '#FFFFFF', lineWidth: 1.3, tickLength: 3, tickColor: '#333333', drawTicks: true},
          ticks: {autoSkip: false, maxRotation: 0, padding: 2.2, color: '#4D4D4D', font: {family: FONT, size: 12.2},
            callback: v => categories[categoryPositions.indexOf(v)]}
        },
        y: {
          type: 'linear', min: -16.15, max: 15.28,
          afterBuildTicks: s => { s.ticks = yMajorTicks.concat(yMinorTicks).sort((a,b)=>a-b).map(v => ({value: v})); },
          afterFit: s => { s.width = 56; },
          border: {display: false},
          grid: {color: '#FFFFFF', tickLength: 3,
            lineWidth: c => (c.tick && yMajorTicks.includes(c.tick.value)) ? 1.3 : 0.7,
            tickColor: c => (c.tick && yMajorTicks.includes(c.tick.value)) ? '#333333' : 'rgba(0,0,0,0)'},
          ticks: {autoSkip: false, padding: 1.5, color: '#4D4D4D', font: {family: FONT, size: 12.2},
            callback: v => yMajorTicks.includes(v) ? fmt(v) : ''}
        }
      }
    },
    plugins: [panelBg, decor]
  });
});
</script>
</body></html>
